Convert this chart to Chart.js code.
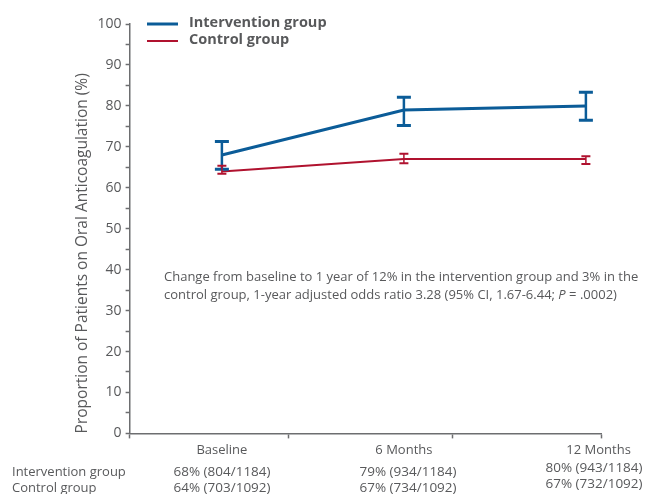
<!DOCTYPE html>
<html>
<head>
<meta charset="utf-8">
<script src="https://cdn.jsdelivr.net/npm/chart.js@4.4.1/dist/chart.umd.min.js"></script>
<style>
  html, body { margin: 0; padding: 0; background: #fff; }
  #wrap { width: 648px; height: 494px; position: relative; }
</style>
</head>
<body>
<div id="wrap"><canvas id="chart"></canvas></div>
<script>
// Time points and group names
const timepoints = ['Baseline', '6 Months', '12 Months'];
const groupNames = ['Intervention group', 'Control group'];

// Proportion on oral anticoagulation (%), with 95% CI limits
const interventionPct  = [68, 79, 80];
const interventionLow  = [64.5, 75.2, 76.5];
const interventionHigh = [71.3, 82.1, 83.3];
const controlPct  = [64, 67, 67];
const controlLow  = [63.4, 66.0, 65.8];
const controlHigh = [65.4, 68.3, 67.7];

// Counts shown under each time point
const interventionCounts = ['68% (804/1184)', '79% (934/1184)', '80% (943/1184)'];
const controlCounts      = ['64% (703/1092)', '67% (734/1092)', '67% (732/1092)'];

// Y-axis tick values
const yTickValues = [0, 5, 10, 15, 20, 25, 30, 35, 40, 45, 50, 55, 60, 65, 70, 75, 80, 85, 90, 95, 100];

const BLUE = '#0b5c98';
const RED = '#b0122f';
const TEXT = '#58595b';
const AXIS = '#6d6e70';
const FONT = "'Open Sans', sans-serif";

// x-axis layout: points sit at 0, 1, 2; separators between them
const X_MIN = -0.507, X_MAX = 2.083;
const X_SEP = [0.364, 1.267];
const X_LABEL_POS = [0, 1, 2.07];

function toPoints(vals) { return vals.map((v, i) => ({ x: i, y: v })); }

const errorBars = {
  id: 'errorBars',
  afterDatasetsDraw(chart) {
    const { ctx, scales: { x, y } } = chart;
    chart.data.datasets.forEach((ds, di) => {
      const meta = chart.getDatasetMeta(di);
      if (meta.hidden) return;
      ctx.save();
      ctx.strokeStyle = ds.borderColor;
      ds.data.forEach((p, i) => {
        const px = x.getPixelForValue(p.x);
        const top = y.getPixelForValue(ds.ciHigh[i]);
        const bot = y.getPixelForValue(ds.ciLow[i]);
        const half = ds.capHalf;
        ctx.lineWidth = ds.stemWidth;
        ctx.beginPath();
        ctx.moveTo(px, top); ctx.lineTo(px, bot);
        ctx.stroke();
        ctx.lineWidth = ds.capWidth;
        ctx.beginPath();
        ctx.moveTo(px - half, top); ctx.lineTo(px + half, top);
        ctx.moveTo(px - half, bot); ctx.lineTo(px + half, bot);
        ctx.stroke();
      });
      ctx.restore();
    });
  }
};

const extras = {
  id: 'extras',
  afterDraw(chart) {
    const { ctx } = chart;
    ctx.save();
    // legend
    const legend = [[groupNames[0], BLUE, 3, 24], [groupNames[1], RED, 2, 41]];
    legend.forEach(([name, col, w, yy]) => {
      ctx.strokeStyle = col; ctx.lineWidth = w;
      ctx.beginPath(); ctx.moveTo(147, yy); ctx.lineTo(178, yy); ctx.stroke();
      ctx.fillStyle = TEXT;
      ctx.font = `bold 14.5px ${FONT}`;
      ctx.textBaseline = 'middle'; ctx.textAlign = 'left';
      ctx.fillText(name, 189, yy - 1);
    });
    // note
    ctx.font = `13px ${FONT}`;
    ctx.fillStyle = TEXT;
    ctx.textAlign = 'left';
    ctx.fillText('Change from baseline to 1 year of 12% in the intervention group and 3% in the', 164, 277);
    const l2a = 'control group, 1-year adjusted odds ratio 3.28 (95% CI, 1.67-6.44; ';
    ctx.fillText(l2a, 164, 295);
    let cx = 164 + ctx.measureText(l2a).width;
    ctx.font = `italic 13px ${FONT}`;
    ctx.fillText('P', cx, 295);
    cx += ctx.measureText('P').width;
    ctx.font = `13px ${FONT}`;
    ctx.fillText(' = .0002)', cx, 295);
    // counts table
    ctx.font = `13px ${FONT}`;
    ctx.textAlign = 'left';
    ctx.fillText(groupNames[0], 12, 472);
    ctx.fillText(groupNames[1], 12, 488);
    ctx.font = `13.5px ${FONT}`;
    ctx.textAlign = 'center';
    const colX = [222, 408, 594];
    const colDy = [0, 0, -4];
    for (let i = 0; i < 3; i++) {
      ctx.fillText(interventionCounts[i], colX[i], 472 + colDy[i]);
      ctx.fillText(controlCounts[i], colX[i], 488 + colDy[i]);
    }
    ctx.restore();
  }
};

new Chart(document.getElementById('chart'), {
  type: 'line',
  data: {
    datasets: [
      {
        label: groupNames[0], data: toPoints(interventionPct),
        ciLow: interventionLow, ciHigh: interventionHigh,
        borderColor: BLUE, borderWidth: 3, pointRadius: 0, tension: 0,
        stemWidth: 2.5, capWidth: 3, capHalf: 7
      },
      {
        label: groupNames[1], data: toPoints(controlPct),
        ciLow: controlLow, ciHigh: controlHigh,
        borderColor: RED, borderWidth: 2, pointRadius: 0, tension: 0,
        stemWidth: 1.5, capWidth: 2, capHalf: 4.5
      }
    ]
  },
  options: {
    responsive: true,
    maintainAspectRatio: false,
    devicePixelRatio: 1,
    animation: false,
    layout: { padding: { top: 24, right: 47, bottom: 32, left: 73 } },
    plugins: { legend: { display: false }, tooltip: { enabled: false } },
    scales: {
      x: {
        type: 'linear', min: X_MIN, max: X_MAX,
        afterBuildTicks: (s) => {
          s.ticks = [X_MIN, X_LABEL_POS[0], X_SEP[0], X_LABEL_POS[1], X_SEP[1], X_LABEL_POS[2], X_MAX]
            .map(v => ({ value: v }));
        },
        ticks: {
          autoSkip: false, maxRotation: 0, color: TEXT, padding: 4,
          font: { family: FONT, size: 13 },
          callback: (v, i) => (i % 2 === 1 ? timepoints[(i - 1) / 2] : '')
        },
        grid: {
          drawOnChartArea: false, tickLength: 5, tickWidth: 1.5,
          tickColor: (c) => (c.index % 2 === 1 ? 'rgba(0,0,0,0)' : AXIS)
        },
        border: { color: AXIS, width: 1.5 }
      },
      y: {
        min: 0, max: 100,
        afterBuildTicks: (s) => { s.ticks = yTickValues.map(v => ({ value: v })); },
        ticks: {
          color: TEXT, padding: 4, autoSkip: false,
          font: { family: FONT, size: 14 },
          callback: (v) => (v % 10 === 0 ? v : '')
        },
        grid: { drawOnChartArea: false, tickLength: 4, tickWidth: 1.5, tickColor: AXIS },
        border: { color: AXIS, width: 1.5 },
        title: {
          display: true, align: 'start', text: 'Proportion of Patients on Oral Anticoagulation (%)',
          color: TEXT, font: { family: FONT, size: 15.5 }, padding: { top: 0, bottom: 2 }
        }
      }
    }
  },
  plugins: [errorBars, extras]
});
</script>
</body>
</html>
